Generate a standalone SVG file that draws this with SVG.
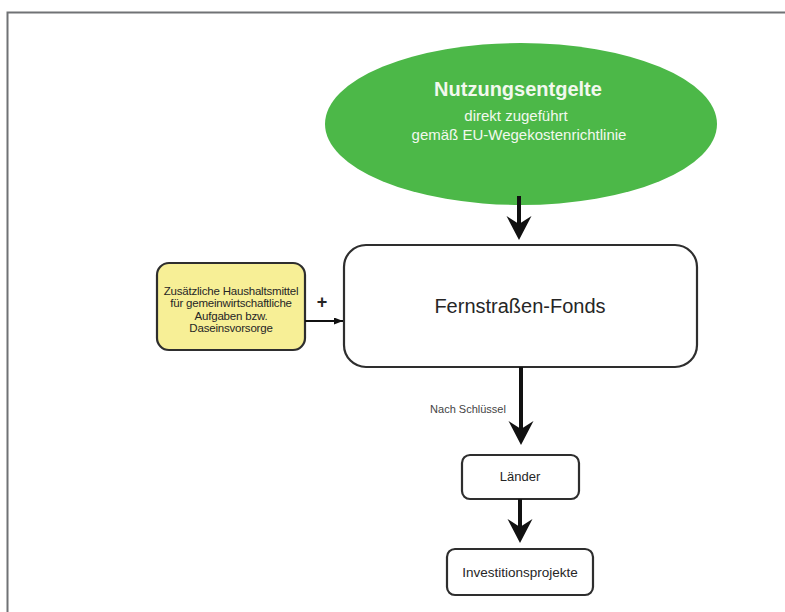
<svg xmlns="http://www.w3.org/2000/svg" width="785" height="612" viewBox="0 0 785 612">
<style>
  text { font-family: "Liberation Sans", Arial, sans-serif; text-anchor: middle; }
  .box { fill: #ffffff; stroke: #2e2e2e; stroke-width: 2.2; }
  .thick { stroke: #111111; stroke-width: 4; fill: none; }
  .thin { stroke: #111111; stroke-width: 2; fill: none; }
  .white { fill: #f2f8ee; }
  .dark { fill: #262626; }
  .small { font-size: 11.5px; letter-spacing: -0.2px; }
</style>
<defs>
  <marker id="bigArrow" markerUnits="userSpaceOnUse" markerWidth="26" markerHeight="26" refX="14" refY="12.5" orient="auto">
    <path d="M0,0 L24,12.5 L0,25 L8,12.5 z" fill="#111111"/>
  </marker>
  <marker id="smallArrow" markerUnits="userSpaceOnUse" markerWidth="10" markerHeight="8" refX="9" refY="3.5" orient="auto">
    <path d="M0,0 L9,3.5 L0,7 z" fill="#111111"/>
  </marker>
</defs>
<rect x="0" y="0" width="785" height="612" fill="#ffffff"/>
<path d="M7.5,612 V12.5 H785" fill="none" stroke="#707275" stroke-width="2"/>

<g id="nutzungsentgelte">
  <ellipse cx="521" cy="124" rx="196" ry="81" fill="#4cb848"/>
  <text x="518" y="96" class="white" font-size="20" font-weight="bold">Nutzungsentgelte</text>
  <text x="516" y="121" class="white" font-size="15">direkt zugeführt</text>
  <text x="519" y="140" class="white" font-size="15">gemäß EU-Wegekostenrichtlinie</text>
</g>

<g id="fonds">
  <rect x="344" y="245" width="353" height="122" rx="22" class="box"/>
  <text x="520" y="313" class="dark" font-size="20">Fernstraßen-Fonds</text>
</g>

<g id="haushaltsmittel">
  <rect x="157" y="263" width="148" height="87" rx="12" fill="#f7ef96" stroke="#2e2e2e" stroke-width="2.2"/>
  <text x="231" y="295" class="dark small">Zusätzliche Haushaltsmittel</text>
  <text x="231" y="307" class="dark small">für gemeinwirtschaftliche</text>
  <text x="231" y="320" class="dark small">Aufgaben bzw.</text>
  <text x="231" y="332" class="dark small">Daseinsvorsorge</text>
</g>

<g id="laender">
  <rect x="462" y="455" width="117" height="44" rx="8" class="box"/>
  <text x="520" y="481" class="dark" font-size="13">Länder</text>
</g>

<g id="investitionsprojekte">
  <rect x="447" y="549" width="146" height="46" rx="8" class="box"/>
  <text x="520" y="577" class="dark" font-size="13.5">Investitionsprojekte</text>
</g>

<g id="connectors">
  <line x1="519" y1="196" x2="519" y2="230" class="thick" marker-end="url(#bigArrow)"/>
  <line x1="305" y1="321" x2="343" y2="321" class="thin" marker-end="url(#smallArrow)"/>
  <text x="322" y="308" class="dark" font-size="18" font-weight="bold">+</text>
  <line x1="521" y1="367" x2="521" y2="435" class="thick" marker-end="url(#bigArrow)"/>
  <text x="468" y="413" fill="#444444" font-size="11">Nach Schlüssel</text>
  <line x1="520" y1="499" x2="520" y2="533" class="thick" marker-end="url(#bigArrow)"/>
</g>
</svg>
